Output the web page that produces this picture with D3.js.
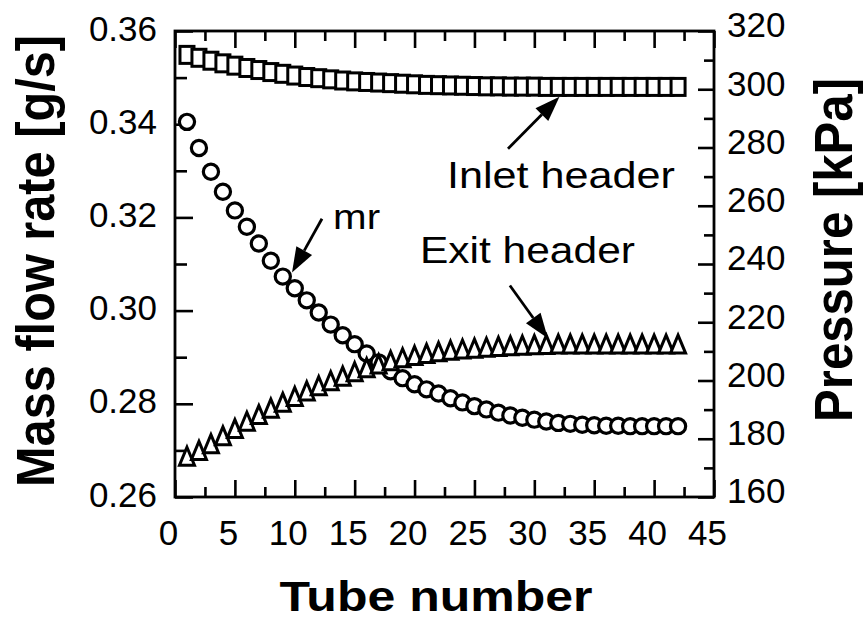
<!DOCTYPE html>
<html>
<head>
<meta charset="utf-8">
<script src="https://cdn.jsdelivr.net/npm/d3@7"></script>
<style>
  body { margin: 0; background: #fff; }
  svg { display: block; }
  text { font-family: "Liberation Sans", Arial, Helvetica, sans-serif; fill: #000; }
</style>
</head>
<body>
<svg id="chart" width="865" height="621"></svg>
<script>
// Tube index along the header
const tubes = [1, 2, 3, 4, 5, 6, 7, 8, 9, 10, 11, 12, 13, 14, 15, 16, 17, 18, 19, 20, 21,
  22, 23, 24, 25, 26, 27, 28, 29, 30, 31, 32, 33, 34, 35, 36, 37, 38, 39, 40, 41, 42];

// Refrigerant mass flow rate per tube [g/s] (left axis)
const massFlow = [0.3405, 0.3349, 0.3298, 0.3255, 0.3215, 0.3180, 0.3144, 0.3107, 0.3073, 0.3048,
  0.3022, 0.2996, 0.2970, 0.2947, 0.2928, 0.2908, 0.2889, 0.2870, 0.2855, 0.2842,
  0.2831, 0.2822, 0.2812, 0.2803, 0.2795, 0.2788, 0.2781, 0.2775, 0.2770, 0.2766,
  0.2762, 0.2759, 0.2757, 0.2755, 0.2754, 0.2753, 0.2753, 0.2752, 0.2752, 0.2752, 0.2752, 0.2752];

// Inlet header pressure [kPa] (right axis)
const inletPressure = [311.8, 310.8, 309.8, 308.9, 308.1, 307.3, 306.6, 305.9, 305.3, 304.7,
  304.2, 303.8, 303.4, 303.0, 302.7, 302.5, 302.3, 302.1, 301.9, 301.7,
  301.5, 301.4, 301.3, 301.2, 301.1, 301.0, 301.0, 300.9, 300.9, 300.9,
  300.8, 300.8, 300.8, 300.8, 300.8, 300.8, 300.8, 300.8, 300.8, 300.8, 300.8, 300.8];

// Exit header pressure [kPa] (right axis)
const exitPressure = [174.0, 176.0, 178.3, 181.0, 183.5, 186.0, 188.3, 190.5, 192.5, 194.5,
  196.4, 198.2, 199.9, 201.5, 203.0, 204.4, 205.7, 206.8, 207.8, 208.6,
  209.3, 209.9, 210.4, 210.8, 211.1, 211.4, 211.7, 211.9, 212.1, 212.3,
  212.4, 212.5, 212.5, 212.5, 212.5, 212.5, 212.5, 212.5, 212.5, 212.5, 212.5, 212.5];

const xTicks = [0, 5, 10, 15, 20, 25, 30, 35, 40, 45];
const xMinorTicks = [2.5, 7.5, 12.5, 17.5, 22.5, 27.5, 32.5, 37.5, 42.5];
const leftTicks = [0.26, 0.28, 0.30, 0.32, 0.34, 0.36];
const leftMinorTicks = [0.27, 0.29, 0.31, 0.33, 0.35];
const rightTicks = [160, 180, 200, 220, 240, 260, 280, 300, 320];
const rightMinorTicks = [170, 190, 210, 230, 250, 270, 290, 310];

const svg = d3.select("#chart");
const plot = { left: 175, right: 714, top: 31, bottom: 497 };

const x = d3.scaleLinear().domain([0, 45]).range([plot.left, plot.right]);
const yL = d3.scaleLinear().domain([0.26, 0.36]).range([plot.bottom, plot.top]);
const yR = d3.scaleLinear().domain([160, 320]).range([plot.bottom, plot.top]);

function styleAxis(g) {
  g.select(".domain").remove();
  g.selectAll(".tick line").attr("stroke", "#000").attr("stroke-width", 2.6);
  g.selectAll(".tick text").attr("font-size", 35).attr("fill", "#000")
    .attr("font-family", "'Liberation Sans', Arial, sans-serif");
}

// Bottom axis: inward ticks with labels
svg.append("g").attr("transform", `translate(0,${plot.bottom})`)
  .call(d3.axisBottom(x).tickValues(xTicks).tickSizeInner(-17).tickSizeOuter(0)
    .tickPadding(23).tickFormat(d3.format("d")))
  .call(styleAxis)
  .call(g => g.selectAll(".tick text").attr("dx", -7));
svg.append("g").attr("transform", `translate(0,${plot.bottom})`)
  .call(d3.axisBottom(x).tickValues(xMinorTicks).tickSizeInner(-10).tickSizeOuter(0).tickFormat(""))
  .call(styleAxis);

// Top axis: mirrored ticks, no labels
svg.append("g").attr("transform", `translate(0,${plot.top})`)
  .call(d3.axisTop(x).tickValues(xTicks).tickSizeInner(-17).tickSizeOuter(0).tickFormat(""))
  .call(styleAxis);
svg.append("g").attr("transform", `translate(0,${plot.top})`)
  .call(d3.axisTop(x).tickValues(xMinorTicks).tickSizeInner(-10).tickSizeOuter(0).tickFormat(""))
  .call(styleAxis);

// Left axis: mass flow rate
svg.append("g").attr("transform", `translate(${plot.left},0)`)
  .call(d3.axisLeft(yL).tickValues(leftTicks).tickSizeInner(-18).tickSizeOuter(0)
    .tickPadding(18).tickFormat(d3.format(".2f")))
  .call(styleAxis)
  .call(g => g.selectAll(".tick text").attr("dy", "0.26em"));
svg.append("g").attr("transform", `translate(${plot.left},0)`)
  .call(d3.axisLeft(yL).tickValues(leftMinorTicks).tickSizeInner(-12).tickSizeOuter(0).tickFormat(""))
  .call(styleAxis);

// Right axis: pressure
svg.append("g").attr("transform", `translate(${plot.right},0)`)
  .call(d3.axisRight(yR).tickValues(rightTicks).tickSizeInner(-16).tickSizeOuter(0)
    .tickPadding(13).tickFormat(d3.format("d")))
  .call(styleAxis)
  .call(g => g.selectAll(".tick text").attr("dy", "0.17em"));
svg.append("g").attr("transform", `translate(${plot.right},0)`)
  .call(d3.axisRight(yR).tickValues(rightMinorTicks).tickSizeInner(-10).tickSizeOuter(0).tickFormat(""))
  .call(styleAxis);

// Plot frame
svg.append("rect")
  .attr("x", plot.left).attr("y", plot.top)
  .attr("width", plot.right - plot.left).attr("height", plot.bottom - plot.top)
  .attr("fill", "none").attr("stroke", "#000").attr("stroke-width", 2.8);

// Mass flow rate: open circles
svg.append("g").selectAll("circle")
  .data(tubes.map((t, i) => ({ t, v: massFlow[i] })))
  .join("circle")
  .attr("cx", d => x(d.t)).attr("cy", d => yL(d.v)).attr("r", 7.6)
  .attr("fill", "#fff").attr("stroke", "#000").attr("stroke-width", 3.2);

// Exit header pressure: open triangles
const triW = 15, triH = 18;
svg.append("g").selectAll("path")
  .data(tubes.map((t, i) => ({ t, v: exitPressure[i] })))
  .join("path")
  .attr("transform", d => `translate(${x(d.t)},${yR(d.v)})`)
  .attr("d", `M0,${-triH / 2}L${triW / 2},${triH / 2}L${-triW / 2},${triH / 2}Z`)
  .attr("fill", "#fff").attr("stroke", "#000").attr("stroke-width", 3)
  .attr("stroke-linejoin", "miter");

// Inlet header pressure: open squares
const sqW = 14, sqH = 17;
svg.append("g").selectAll("rect")
  .data(tubes.map((t, i) => ({ t, v: inletPressure[i] })))
  .join("rect")
  .attr("x", d => x(d.t) - sqW / 2).attr("y", d => yR(d.v) - sqH / 2)
  .attr("width", sqW).attr("height", sqH)
  .attr("fill", "#fff").attr("stroke", "#000").attr("stroke-width", 3);

// Annotation arrows with filled heads
function arrow(x1, y1, x2, y2) {
  const dx = x2 - x1, dy = y2 - y1, len = Math.hypot(dx, dy);
  const ux = dx / len, uy = dy / len;
  const headL = 25, headW = 9;
  const bx = x2 - ux * headL, by = y2 - uy * headL;
  svg.append("line").attr("x1", x1).attr("y1", y1).attr("x2", bx).attr("y2", by)
    .attr("stroke", "#000").attr("stroke-width", 2.8);
  svg.append("path")
    .attr("d", `M${x2},${y2}L${bx - uy * headW},${by + ux * headW}L${bx + uy * headW},${by - ux * headW}Z`)
    .attr("fill", "#000");
}
function label(txt, xp, yp, size, width) {
  svg.append("text").attr("x", xp).attr("y", yp).attr("font-size", size)
    .attr("textLength", width).attr("lengthAdjust", "spacingAndGlyphs").text(txt);
}

label("Inlet header", x(22.7), yR(266.2), 37, 228);
arrow(x(27.8), yR(279.6), x(32.1), yR(297.4));

label("mr", x(13.2), yL(0.3176), 35, 47);
arrow(x(12.27), yL(0.3197), x(9.77), yL(0.3082));

label("Exit header", x(20.45), yR(240.2), 37, 215);
arrow(x(27.96), yR(232.6), x(31.13), yR(214.5));

// Axis titles
svg.append("text")
  .attr("x", 436).attr("y", 611).attr("text-anchor", "middle")
  .attr("font-size", 42).attr("font-weight", "bold")
  .attr("textLength", 313).attr("lengthAdjust", "spacingAndGlyphs")
  .text("Tube number");

svg.append("text")
  .attr("transform", "translate(54,261) scale(1.1,1) rotate(-90)")
  .attr("text-anchor", "middle")
  .attr("font-size", 48).attr("font-weight", "bold")
  .attr("textLength", 452).attr("lengthAdjust", "spacingAndGlyphs")
  .text("Mass flow rate [g/s]");

svg.append("text")
  .attr("transform", "translate(852,250) scale(1.1,1) rotate(-90)")
  .attr("text-anchor", "middle")
  .attr("font-size", 48).attr("font-weight", "bold")
  .attr("textLength", 344).attr("lengthAdjust", "spacingAndGlyphs")
  .text("Pressure [kPa]");
</script>
</body>
</html>
